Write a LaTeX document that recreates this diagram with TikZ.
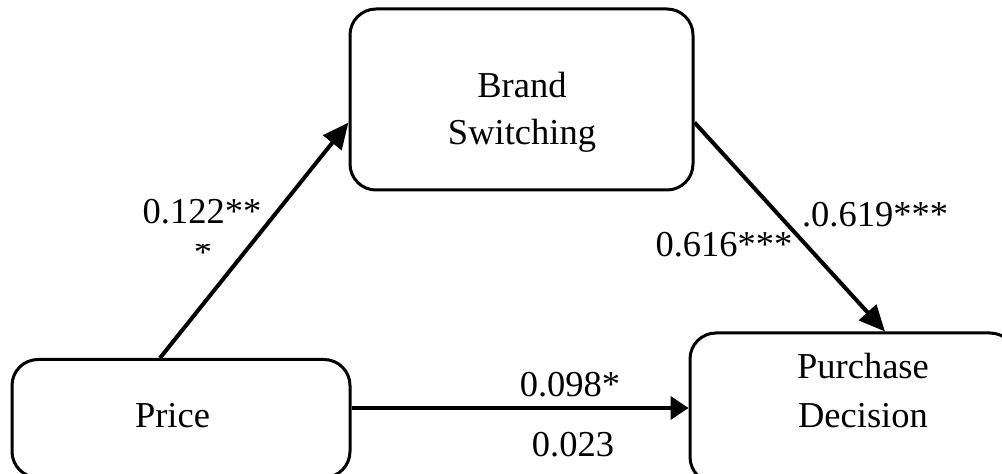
\documentclass[tikz,border=0pt]{standalone}
\usepackage{fontspec}
\setmainfont{Liberation Serif}
\usetikzlibrary{arrows.meta}
\begin{document}
\begin{tikzpicture}[x=1pt,y=1pt,
  box/.style={draw=black,line width=3pt,rounded corners=26pt,fill=white,inner sep=0pt},
  txt/.style={font=\fontsize{36.5}{47}\selectfont,align=center,inner sep=0pt},
  lab/.style={font=\fontsize{36.5}{47}\selectfont,inner sep=0pt,anchor=base},
  conn/.style={line width=4pt,-{Triangle[length=26pt,width=23pt]}},
  hconn/.style={line width=4pt,-{Triangle[length=18pt,width=23pt]}}]
\useasboundingbox (0,0) rectangle (1002,474);
\clip (0,0) rectangle (1002,474);
% boxes
\node[box,minimum width=343pt,minimum height=181pt] (brand) at (521.5,374.5) {};
\node[box,minimum width=338pt,minimum height=118pt] (price) at (181,55.5) {};
\node[box,minimum width=326pt,minimum height=150pt] (purchase) at (853,66) {};
% box texts
\node[txt] (brandtxt) at (522,362) {Brand\\Switching};
\node[lab] (pricetxt) at (172.5,46) {Price};
\node[lab] (purtxt1) at (863,95) {Purchase};
\node[lab] (purtxt2) at (863,46) {Decision};
% connectors
\draw[conn] ([xshift=-21pt]price.north) -- ([yshift=-23pt]brand.west);
\draw[conn] ([yshift=-23pt]brand.east) -- ([xshift=32pt]purchase.north);
\draw[hconn] (price.east |- purchase.west) -- (purchase.west);
% labels
\node[lab] (l1) at (202,250) {0.122**};
\begin{scope}
\clip (150,150) rectangle (260,229);
\node[lab] (l1b) at (203,209) {*};
\end{scope}
\node[lab] (l2) at (724,217) {0.616***};
\node[lab] (l3) at (875,247) {.0.619***};
\node[lab] (l4) at (570,77) {0.098*};
\node[lab] (l5) at (573,17) {0.023};
\end{tikzpicture}
\end{document}
